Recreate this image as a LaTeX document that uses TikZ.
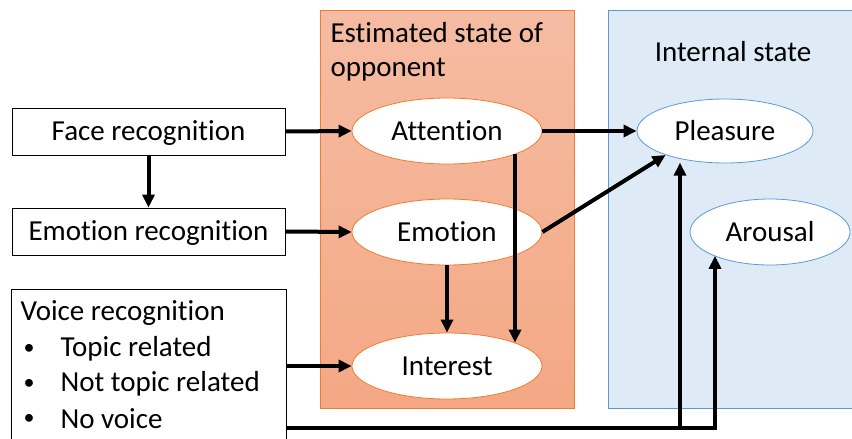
\documentclass[tikz,border=0pt]{standalone}
\usepackage{fontspec}
\setmainfont{Carlito}[Ligatures=NoCommon]
\usetikzlibrary{arrows.meta,shapes.geometric}
\definecolor{oranTop}{RGB}{245,188,163}
\definecolor{oranBot}{RGB}{244,168,132}
\definecolor{oranLine}{RGB}{237,125,49}
\definecolor{bluFill}{RGB}{222,235,247}
\definecolor{bluLine}{RGB}{91,155,213}
\tikzset{
  txt/.style={font=\fontsize{29}{34}\selectfont},
  mid/.style={text height=24pt, text depth=5.4pt},
  inbox/.style={draw=black, line width=0.8pt, fill=white, minimum width=273pt, minimum height=47pt, inner sep=0pt, mid, txt},
  ovalO/.style={ellipse, draw=oranLine, line width=0.8pt, fill=white, minimum width=190pt, minimum height=66pt, inner sep=0pt, mid, txt},
  ovalB/.style={ellipse, draw=bluLine, line width=0.8pt, fill=white, inner sep=0pt, mid, txt},
  link/.style={line width=4pt, line join=miter},
  arr/.style={link, -{Triangle[length=13pt,width=12pt]}},
  dot/.style={font=\fontsize{22}{22}\selectfont, anchor=center},
}
\begin{document}
\begin{tikzpicture}[x=1pt,y=-1pt]
\useasboundingbox (0,0) rectangle (852,439);
\clip (0,0) rectangle (852,439);

% group panels
\draw[draw=oranLine, line width=0.8pt, top color=oranTop, bottom color=oranBot] (320,10) rectangle (574,408);
\draw[draw=bluLine, line width=0.8pt, fill=bluFill] (608,10) rectangle (870,408);

\node[txt, anchor=west, align=left] (esttitle) at (327,52) {Estimated state of\\opponent};
\node[txt] (inttitle) at (733,52) {Internal state};

% input boxes
\node[inbox] (face) at (148.5,131.5) {Face recognition};
\node[inbox] (emorec) at (148.5,231.5) {Emotion recognition};
\node[draw=black, line width=0.8pt, fill=white, anchor=north west, minimum width=275pt, minimum height=170pt, inner sep=0pt] (voice) at (10.5,288.5) {};
\node[txt, anchor=west] (vhead) at (17,313) {Voice recognition};
\node[dot] (b1) at (29,349) {\textbullet};
\node[txt, anchor=west] (v1) at (57,349) {Topic related};
\node[dot] (b2) at (29,384) {\textbullet};
\node[txt, anchor=west] (v2) at (57,384) {Not topic related};
\node[dot] (b3) at (29,419) {\textbullet};
\node[txt, anchor=west] (v3) at (57,419) {No voice};

% estimated states
\node[ovalO] (att) at (447,131) {Attention};
\node[ovalO] (emo) at (447,232) {Emotion};
\node[ovalO] (int) at (447,366) {Interest};

% internal states
\node[ovalB, minimum width=176pt, minimum height=64pt] (ple) at (725,131) {Pleasure};
\node[ovalB, minimum width=160pt, minimum height=66pt] (aro) at (770,232) {Arousal};

% connectors
\draw[arr] (face.east) -- (att.west);
\draw[arr] (face.south) -- (emorec.north);
\draw[arr] (emorec.east) -- (emo.west);
\draw[arr] (int.west -| voice.east) -- (int.west);
\draw[arr] (att.east) -- (ple.west);
\draw[arr] (emo.east) -- (ple.-158);
\draw[arr] (emo.south) -- (int.north);
\draw[arr] (att.-19) -- (int.19);

\coordinate (jp) at (680,428);
\coordinate (ja) at (715,428);
\draw[arr] (jp -| voice.east) -- (ja) -- (aro.-157 -| ja);
\draw[arr] (jp) -- (ple.-121 -| jp);
\end{tikzpicture}
\end{document}
